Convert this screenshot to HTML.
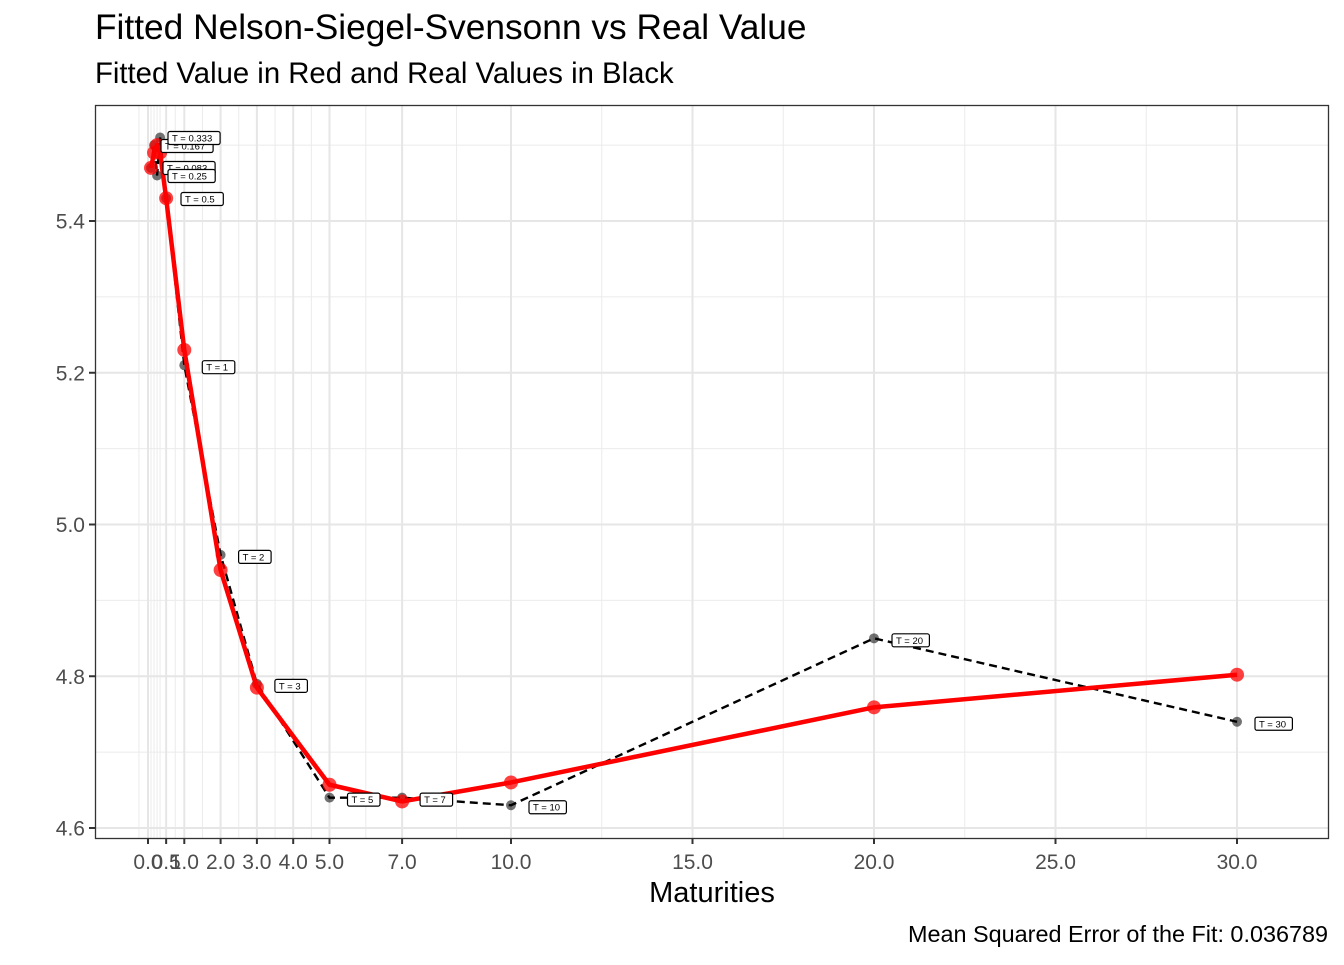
<!DOCTYPE html>
<html><head><meta charset="utf-8"><style>
body{margin:0;background:#fff;}
svg{font-family:"Liberation Sans",Arial,sans-serif;}
</style></head><body>
<svg id="c" width="1344" height="960" xmlns="http://www.w3.org/2000/svg">
<rect width="1344" height="960" fill="#fff"/>
<text x="95" y="39" font-size="35.3" fill="#000">Fitted Nelson-Siegel-Svensonn vs Real Value</text>
<text x="95" y="83" font-size="29.3" fill="#000">Fitted Value in Red and Real Values in Black</text>
<g id="grid"></g><g id="marks"></g>
<rect x="95.5" y="105.5" width="1233" height="733" fill="none" stroke="#333" stroke-width="1.3"/>
<g id="axes"></g>
<text x="712" y="902" font-size="29" text-anchor="middle">Maturities</text>
<text x="1328" y="942" font-size="23.4" text-anchor="end">Mean Squared Error of the Fit: 0.036789</text>
</svg>
<script>
const maturities=[0.083,0.167,0.25,0.333,0.5,1,2,3,5,7,10,20,30];
const realValues=[5.47,5.50,5.46,5.51,5.43,5.21,4.96,4.79,4.64,4.64,4.63,4.85,4.74];
const fittedValues=[5.47,5.49,5.50,5.49,5.43,5.23,4.94,4.785,4.657,4.635,4.66,4.759,4.802];
const labels=["T = 0.083","T = 0.167","T = 0.25","T = 0.333","T = 0.5","T = 1","T = 2","T = 3","T = 5","T = 7","T = 10","T = 20","T = 30"];
const xTicks=[0,0.5,1,2,3,4,5,7,10,15,20,25,30];
const xTickLabels=["0.0","0.5","1.0","2.0","3.0","4.0","5.0","7.0","10.0","15.0","20.0","25.0","30.0"];
const yTicks=[4.6,4.8,5.0,5.2,5.4];
const yTickLabels=["4.6","4.8","5.0","5.2","5.4"];
const NS="http://www.w3.org/2000/svg";
const X=v=>148+v*36.3;
const Y=v=>828-(v-4.6)*758.75;
function mk(t,a,p){const e=document.createElementNS(NS,t);for(const k in a)e.setAttribute(k,a[k]);p.appendChild(e);return e;}
const grid=document.getElementById('grid'),marks=document.getElementById('marks'),axes=document.getElementById('axes');
const ymin=[4.7,4.9,5.1,5.3,5.5];
ymin.forEach(v=>{const l=mk('line',{x1:95,x2:1328,y1:Y(v),y2:Y(v),stroke:'#ebebeb','stroke-width':1},grid);
});
const xmin=[-0.25,0.25,0.75,1.5,2.5,3.5,4.5,6,8.5,12.5,17.5,22.5,27.5,0.083,0.167,0.333];
xmin.forEach(v=>{const l=mk('line',{x1:X(v),x2:X(v),y1:105,y2:838,stroke:'#ebebeb','stroke-width':1},grid);
});
yTicks.forEach((v,i)=>{const l=mk('line',{x1:95,x2:1328,y1:Y(v),y2:Y(v),stroke:'#e6e6e6','stroke-width':2},grid);

const t=mk('line',{x1:89,x2:95,y1:Y(v),y2:Y(v),stroke:'#333','stroke-width':2},axes);

const tx=mk('text',{x:85,y:Y(v)+7.5,'font-size':21,'text-anchor':'end',fill:'#4d4d4d'},axes);tx.textContent=yTickLabels[i];
});
xTicks.forEach((v,i)=>{const l=mk('line',{x1:X(v),x2:X(v),y1:105,y2:838,stroke:'#e6e6e6','stroke-width':2},grid);

const t=mk('line',{x1:X(v),x2:X(v),y1:838,y2:844,stroke:'#333','stroke-width':2},axes);

const tx=mk('text',{x:X(v),y:869,'font-size':21,'text-anchor':'middle',fill:'#4d4d4d'},axes);tx.textContent=xTickLabels[i];
});
const rl=mk('polyline',{points:maturities.map((m,i)=>X(m)+','+Y(realValues[i])).join(' '),fill:'none',stroke:'#000','stroke-width':2.4,'stroke-dasharray':'8,5'},marks);

maturities.forEach((m,i)=>{const c=mk('circle',{cx:X(m),cy:Y(realValues[i]),r:5,fill:'#000','fill-opacity':0.55},marks);
});
const fl=mk('polyline',{points:maturities.map((m,i)=>X(m)+','+Y(fittedValues[i])).join(' '),fill:'none',stroke:'#ff0000','stroke-width':4.5,'stroke-linejoin':'round'},marks);

maturities.forEach((m,i)=>{const c=mk('circle',{cx:X(m),cy:Y(fittedValues[i]),r:7,fill:'#ff0000','fill-opacity':0.75},marks);
});
const clusterPos={0:[163,168],1:[161,146],2:[168,176],3:[168,138],4:[181,199]};
labels.forEach((s,i)=>{let lx=X(maturities[i])+18,ly=Y(realValues[i])+2;
if(clusterPos[i]){lx=clusterPos[i][0];ly=clusterPos[i][1];}
const w=s.length*4.9+8;
const g=mk('g',{},marks);
mk('rect',{x:lx,y:ly-6.5,width:w,height:13,rx:2,fill:'#fff',stroke:'#000','stroke-width':1.2},g);
const t=mk('text',{x:lx+4,y:ly+3.5,'font-size':9.5,fill:'#000'},g);t.textContent=s;});
</script>
</body></html>
